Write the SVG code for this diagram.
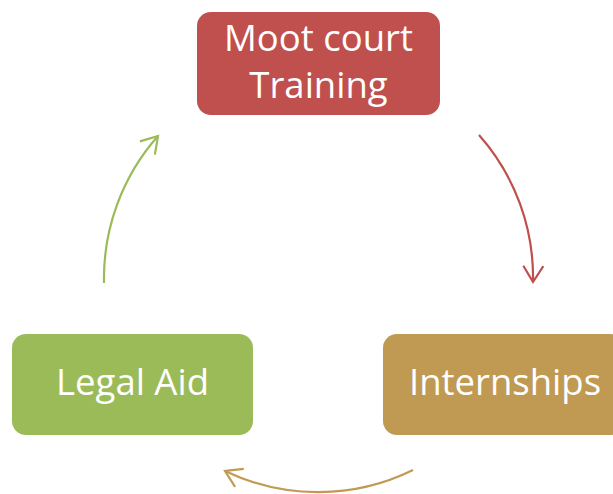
<svg xmlns="http://www.w3.org/2000/svg" width="613" height="494" viewBox="0 0 613 494">
  <style>
    .label { font-family: "Open Sans", "Liberation Sans", sans-serif; font-size: 36.5px; fill: #ffffff; text-anchor: middle; }
    .arc { fill: none; stroke-width: 2.2; }
  </style>
  <defs>
    <marker id="head-red" markerUnits="userSpaceOnUse" markerWidth="40" markerHeight="40" viewBox="-20 -20 40 40" refX="0" refY="0" orient="auto">
      <path d="M-16,-10 L0,0 L-16,10" fill="none" stroke="#C0504D" stroke-width="2.2"/>
    </marker>
    <marker id="head-gold" markerUnits="userSpaceOnUse" markerWidth="40" markerHeight="40" viewBox="-20 -20 40 40" refX="0" refY="0" orient="auto">
      <path d="M-16,-10 L0,0 L-16,10" fill="none" stroke="#C09A52" stroke-width="2.2"/>
    </marker>
    <marker id="head-green" markerUnits="userSpaceOnUse" markerWidth="40" markerHeight="40" viewBox="-20 -20 40 40" refX="0" refY="0" orient="auto">
      <path d="M-16,-10 L0,0 L-16,10" fill="none" stroke="#9BBB59" stroke-width="2.2"/>
    </marker>
  </defs>
  <rect width="613" height="494" fill="#ffffff"/>

  <g id="connectors">
    <path class="arc" stroke="#C0504D" d="M479,135 A215,215 0 0 1 533,282" marker-end="url(#head-red)"/>
    <path class="arc" stroke="#C09A52" d="M413,470 A215,215 0 0 1 225,471" marker-end="url(#head-gold)"/>
    <path class="arc" stroke="#9BBB59" d="M104,283 A215,215 0 0 1 158,136" marker-end="url(#head-green)"/>
  </g>

  <g id="moot-court">
    <rect x="197" y="12" width="243" height="103" rx="14" fill="#C0504D"/>
    <text class="label" x="318.5" y="51">Moot court</text>
    <text class="label" x="318.5" y="98">Training</text>
  </g>

  <g id="internships">
    <rect x="383" y="334" width="241" height="101" rx="14" fill="#C09A52"/>
    <text class="label" x="505" y="395">Internships</text>
  </g>

  <g id="legal-aid">
    <rect x="12" y="334" width="241" height="101" rx="14" fill="#9BBB59"/>
    <text class="label" x="132.5" y="395">Legal Aid</text>
  </g>
</svg>
